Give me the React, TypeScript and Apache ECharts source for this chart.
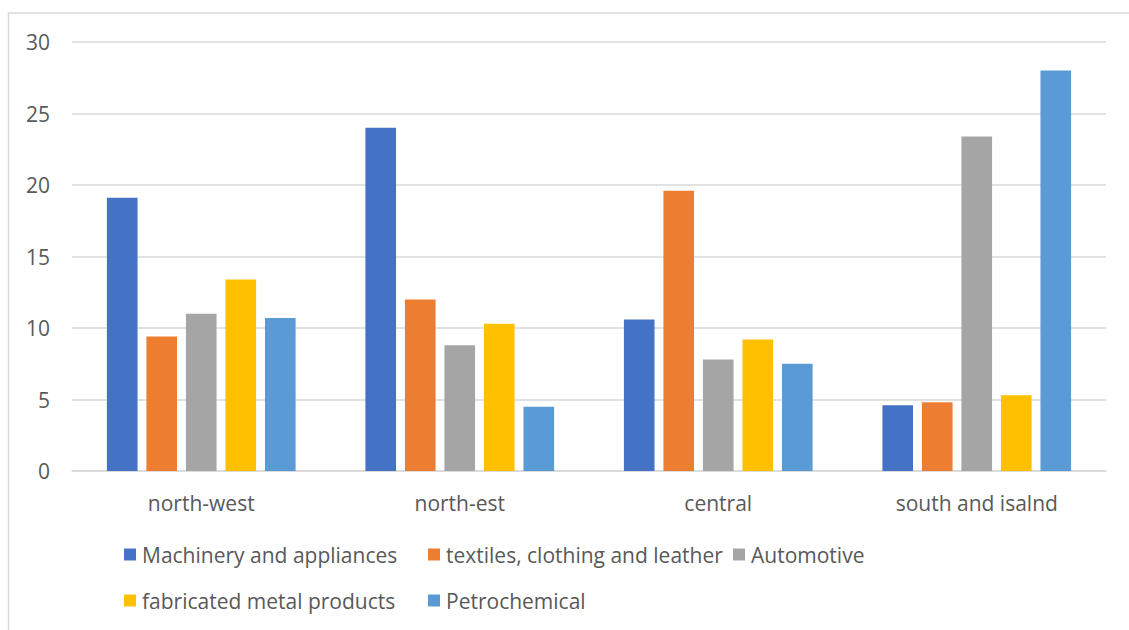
import React, { useEffect, useRef } from "react";
import * as echarts from "echarts";

// Regions along the x axis
const regions = ["north-west", "north-est", "central", "south and isalnd"];

// Sector shares per region
const machinery = [19.1, 24.0, 10.6, 4.6];
const textiles = [9.4, 12.0, 19.6, 4.8];
const automotive = [11.0, 8.8, 7.8, 23.4];
const fabricatedMetal = [13.4, 10.3, 9.2, 5.3];
const petrochemical = [10.7, 4.5, 7.5, 28.0];

const seriesNames = [
  "Machinery and appliances",
  "textiles, clothing and leather",
  "Automotive",
  "fabricated metal products",
  "Petrochemical",
];
const seriesData = [machinery, textiles, automotive, fabricatedMetal, petrochemical];
const seriesColors = ["#4472C4", "#ED7D31", "#A5A5A5", "#FFC000", "#5B9BD5"];

// Value axis
const yMin = 0;
const yMax = 30;
const yStep = 5;

const FONT = "'Open Sans', 'Noto Sans', sans-serif";
const FONT_SIZE = 21;
const TEXT_COLOR = "#595959";
const GRID_COLOR = "#D9D9D9";

// Legend laid out in two rows on a column grid
const legendSlots = [
  { left: 124, top: 544 },
  { left: 428, top: 544 },
  { left: 733, top: 544 },
  { left: 124, top: 590 },
  { left: 428, top: 590 },
];

export default function App() {
  const ref = useRef<HTMLDivElement>(null);

  useEffect(() => {
    if (!ref.current) return;
    const chart = echarts.init(ref.current, undefined, { renderer: "svg" });

    chart.setOption({
      animation: false,
      backgroundColor: "#FFFFFF",
      textStyle: { fontFamily: FONT },
      grid: { left: 72, right: 23, top: 42, bottom: 159, containLabel: false },
      xAxis: {
        type: "category",
        data: regions,
        axisLine: { show: true, lineStyle: { color: GRID_COLOR, width: 1.5 } },
        axisTick: { show: false },
        axisLabel: {
          color: TEXT_COLOR,
          fontSize: FONT_SIZE,
          fontFamily: FONT,
          margin: 21,
        },
      },
      yAxis: {
        type: "value",
        min: yMin,
        max: yMax,
        interval: yStep,
        axisLine: { show: false },
        axisTick: { show: false },
        axisLabel: {
          color: TEXT_COLOR,
          fontSize: FONT_SIZE,
          fontFamily: FONT,
          margin: 22,
        },
        splitLine: { lineStyle: { color: GRID_COLOR, width: 1.5 } },
      },
      legend: legendSlots.map((slot, i) => ({
        data: [seriesNames[i]],
        left: slot.left,
        top: slot.top,
        padding: 0,
        icon: "rect",
        itemWidth: 12,
        itemHeight: 12,
        selectedMode: false,
        textStyle: { color: TEXT_COLOR, fontSize: FONT_SIZE, fontFamily: FONT, padding: [0, 0, 0, 1] },
      })),
      series: seriesNames.map((name, i) => ({
        name,
        type: "bar",
        data: seriesData[i],
        barGap: "29%",
        barCategoryGap: "27%",
        itemStyle: { color: seriesColors[i] },
      })),
      graphic: [
        {
          type: "polyline",
          shape: {
            points: [
              [8.5, 630],
              [8.5, 13],
              [1129, 13],
            ],
          },
          style: { stroke: GRID_COLOR, lineWidth: 1.5, fill: "none" },
          silent: true,
        },
      ],
    });

    return () => chart.dispose();
  }, []);

  return (
    <div
      ref={ref}
      style={{ position: "fixed", left: 0, top: 0, width: 1129, height: 630 }}
    />
  );
}
